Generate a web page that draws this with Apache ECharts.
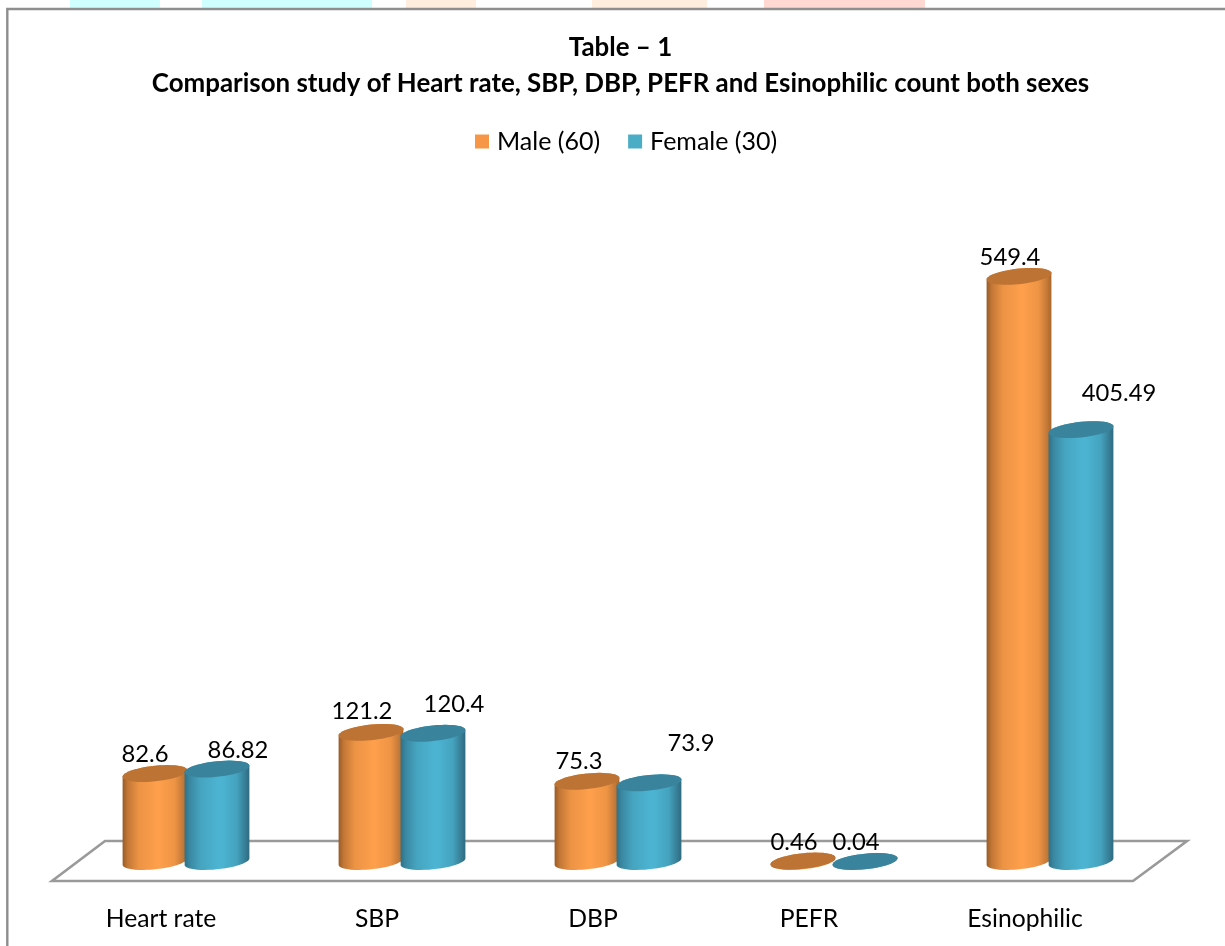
<!DOCTYPE html>
<html>
<head>
<meta charset="utf-8">
<style>html,body{margin:0;padding:0;background:#fff}#c{width:1225px;height:946px}</style>
<script src="https://cdn.jsdelivr.net/npm/echarts@6/dist/echarts.min.js"></script>
</head>
<body>
<div id="c"></div>
<script>
const categories = ['Heart rate', 'SBP', 'DBP', 'PEFR', 'Esinophilic'];
const maleValues = [82.6, 121.2, 75.3, 0.46, 549.4];
const femaleValues = [86.82, 120.4, 73.9, 0.04, 405.49];
const maleLabels = ['82.6', '121.2', '75.3', '0.46', '549.4'];
const femaleLabels = ['86.82', '120.4', '73.9', '0.04', '405.49'];
const maleLabelShift = [[-10, -19], [-9, -21], [-8, -20], [-9, -19], [-9, -19]];
const femaleLabelShift = [[21, -19], [21, -29], [42, -39], [-9, -19], [38, -36]];
const watermark = [[70, 90, '#d0ffff'], [202, 170, '#d0ffff'], [406, 70, '#ffeedd'], [592, 115, '#ffeedd'], [764, 161, '#ffd8d2']];

const FONT = 'Lato, "Open Sans", sans-serif';

function ellipsePoints(cx, cy, a, b, k, from, to, n) {
  const pts = [];
  for (let i = 0; i <= n; i++) {
    const t = from + (to - from) * i / n;
    pts.push([cx + a * Math.cos(t), cy + b * Math.sin(t) - k * a * Math.cos(t)]);
  }
  return pts;
}

function cylinderSeries(name, values, labels, shifts, sign, palette) {
  return {
    type: 'custom',
    name,
    coordinateSystem: 'cartesian2d',
    itemStyle: { color: palette.legend },
    encode: { x: 0, y: 1 },
    data: values.map((v, i) => [i, v]),
    z: sign < 0 ? 3 : 4,
    renderItem(params, api) {
      const i = api.value(0), v = api.value(1);
      const band = api.size([1, 0])[0];
      const base = api.coord([i, 0]);
      const top = api.coord([i, v]);
      const cx = base[0] + sign * band * 0.1435;
      const a = band * 0.15, b = 7.8, k = 0.1;
      const body = ellipsePoints(cx, top[1], a, b, k, Math.PI, 2 * Math.PI, 24)
        .concat(ellipsePoints(cx, base[1], a, b, k, 0, Math.PI, 24));
      const idx = params.dataIndex;
      return {
        type: 'group',
        children: [
          { type: 'polygon', shape: { points: body },
            style: { fill: new echarts.graphic.LinearGradient(0, 0, 1, 0, palette.stops) } },
          { type: 'polygon', shape: { points: ellipsePoints(cx, top[1], a, b, k, 0, 2 * Math.PI, 48) },
            style: { fill: palette.cap } },
          { type: 'text', z2: 10,
            style: { text: labels[idx], x: cx + shifts[idx][0], y: top[1] + shifts[idx][1],
              align: 'center', verticalAlign: 'middle', fill: '#000', font: '400 23.8px ' + FONT } }
        ]
      };
    }
  };
}

const maleColors = {
  legend: '#f79646', cap: '#bd7333',
  stops: [
    { offset: 0, color: '#9a5a28' }, { offset: 0.08, color: '#c27836' },
    { offset: 0.25, color: '#ec9344' }, { offset: 0.55, color: '#ffa04c' },
    { offset: 0.8, color: '#ee9445' }, { offset: 0.93, color: '#c47a38' },
    { offset: 1, color: '#a9652c' }
  ]
};
const femaleColors = {
  legend: '#4bacc6', cap: '#39849c',
  stops: [
    { offset: 0, color: '#2f7088' }, { offset: 0.08, color: '#3a88a2' },
    { offset: 0.25, color: '#46a5c1' }, { offset: 0.55, color: '#4cb5d3' },
    { offset: 0.8, color: '#45a3bf' }, { offset: 0.93, color: '#377f96' },
    { offset: 1, color: '#2f6b80' }
  ]
};

const chart = echarts.init(document.getElementById('c'), null, { renderer: 'canvas' });
chart.setOption({
  animation: false,
  backgroundColor: '#fff',
  textStyle: { fontFamily: FONT },
  title: {
    text: 'Table \u2013 1\nComparison study of Heart rate, SBP, DBP, PEFR and Esinophilic count both sexes',
    left: 615.5, textAlign: 'center', top: 25,
    textStyle: { fontFamily: FONT, fontSize: 25.9, fontWeight: 700, lineHeight: 36, color: '#000' }
  },
  legend: {
    data: ['Male (60)', 'Female (30)'],
    top: 124, left: 470,
    icon: 'rect', itemWidth: 14, itemHeight: 14, itemGap: 28,
    textStyle: { fontFamily: FONT, fontSize: 25, color: '#000', padding: [0, 0, 0, 3] }
  },
  grid: { left: 78, right: 67, top: 222.5, bottom: 84.5 },
  xAxis: {
    type: 'category', data: categories,
    axisLine: { show: false }, axisTick: { show: false },
    axisLabel: { margin: 45, fontFamily: FONT, fontSize: 24.7, color: '#000', padding: [0, 50, 0, 0], interval: 0 }
  },
  yAxis: { type: 'value', min: 0, max: 600, show: false },
  series: [
    {
      type: 'custom', silent: true, z: 1,
      coordinateSystem: 'cartesian2d',
      data: [[0, 0]],
      renderItem(params, api) {
        const r = params.coordSys;
        const y = api.coord([0, 0])[1];
        return {
          type: 'polygon',
          shape: { points: [
            [r.x - 26, y + 19.5], [r.x + r.width - 25, y + 19.5],
            [r.x + r.width + 29, y - 20.5], [r.x + 27, y - 20.5]
          ] },
          style: { fill: '#fff', stroke: '#9a9a9a', lineWidth: 2.6 }
        };
      }
    },
    cylinderSeries('Male (60)', maleValues, maleLabels, maleLabelShift, -1, maleColors),
    cylinderSeries('Female (30)', femaleValues, femaleLabels, femaleLabelShift, 1, femaleColors)
  ],
  graphic: [
    ...watermark.map(w => ({ type: 'rect', silent: true, z: 0, shape: { x: w[0], y: 0, width: w[1], height: 8 }, style: { fill: w[2] } })),
    { type: 'polyline', silent: true, shape: { points: [[7.3, 946], [7.3, 9], [1225, 9]] }, style: { fill: 'none', stroke: '#8e8e8e', lineWidth: 2.4 } }
  ]
});
</script>
</body>
</html>
